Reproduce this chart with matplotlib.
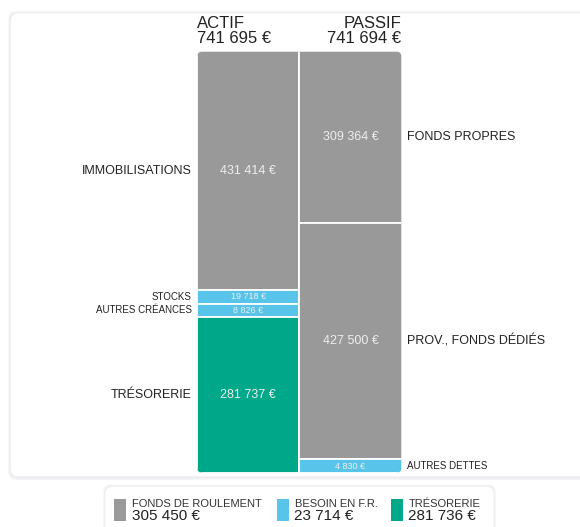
import matplotlib
matplotlib.use('Agg')
import matplotlib.pyplot as plt
from matplotlib.patches import FancyBboxPatch, Rectangle
import matplotlib.transforms as mtrans

plt.rcParams['font.family'] = ['Liberation Sans', 'DejaVu Sans']

GRAY = '#999999'
BLUE = '#58c4ea'
GREEN = '#00a88a'

# data
column_titles = ['ACTIF', 'PASSIF']
column_totals = [741695, 741694]
actif_labels = ['IMMOBILISATIONS', 'STOCKS', 'AUTRES CRÉANCES', 'TRÉSORERIE']
actif_values = [431414, 19718, 8826, 281737]
actif_colors = [GRAY, BLUE, BLUE, GREEN]
passif_labels = ['FONDS PROPRES', 'PROV., FONDS DÉDIÉS', 'AUTRES DETTES']
passif_values = [309364, 427500, 4830]
passif_colors = [GRAY, GRAY, BLUE]
legend_labels = ['FONDS DE ROULEMENT', 'BESOIN EN F.R.', 'TRÉSORERIE']
legend_values = [305450, 23714, 281736]
legend_colors = [GRAY, BLUE, GREEN]

W, H = 580, 527
MIN_FRAC = 0.033   # small segments get a minimum height


def fmt(v):
    return '{:,}'.format(v).replace(',', ' ') + ' €'


def display_heights(values, total):
    small = [v < MIN_FRAC * total for v in values]
    rest = total - MIN_FRAC * total * sum(small)
    big_sum = sum(v for v, s in zip(values, small) if not s)
    return [MIN_FRAC * total if s else v * rest / big_sum for v, s in zip(values, small)], small


def fx(x):
    return x / W


def fy(y):
    return 1 - y / H


fig = plt.figure(figsize=(W / 100, H / 100), dpi=100)
fig.patch.set_facecolor('white')

# background: panel + legend box, in pixel coordinates
bg = fig.add_axes([0, 0, 1, 1])
bg.set_xlim(0, W)
bg.set_ylim(H, 0)
bg.axis('off')

for k in range(5):
    bg.add_patch(FancyBboxPatch((10.5 - k * 0.6, 12.8 - k * 0.4), 590, 464 + k * 1.2,
                                boxstyle='round,pad=0,rounding_size=8',
                                facecolor='#c4c4d6', edgecolor='none', alpha=0.10))
bg.add_patch(FancyBboxPatch((10.5, 12.8), 590, 464, boxstyle='round,pad=0,rounding_size=8',
                            facecolor='white', edgecolor='#f0f0f3', linewidth=0.8))

for k in range(4):
    bg.add_patch(FancyBboxPatch((105 - k * 0.6, 486 - k * 0.5), 389 + k * 1.2, 60,
                                boxstyle='round,pad=0,rounding_size=7',
                                facecolor='#c4c4d6', edgecolor='none', alpha=0.10))
bg.add_patch(FancyBboxPatch((105, 486.5), 389, 60, boxstyle='round,pad=0,rounding_size=7',
                            facecolor='white', edgecolor='#f0f0f3', linewidth=0.8))

# legend
leg_x = [114, 277, 391]
for x, lab, val, col in zip(leg_x, legend_labels, legend_values, legend_colors):
    bg.add_patch(Rectangle((x, 499), 12, 22, facecolor=col, edgecolor='none'))
    bg.text(x + 18, 507, lab, fontsize=8, color='#333333', va='baseline', ha='left')
    bg.text(x + 17.5, 519.5, fmt(val), fontsize=11, color='#222222', va='baseline', ha='left')

# bars axes
bx0, bx1, by0, by1 = 197, 401.6, 51.4, 473
ax = fig.add_axes([fx(bx0), fy(by1), fx(bx1 - bx0), (by1 - by0) / H])
ax.patch.set_alpha(0)
ax.axis('off')
ymax = max(column_totals)
ax.set_xlim(-0.5, 1.5)
ax.set_ylim(ymax, 0)

# rounded outline of the whole block, in pixel units of the background axes
clip = FancyBboxPatch((bx0, by0), bx1 - bx0, by1 - by0, boxstyle='round,pad=0,rounding_size=6',
                      transform=bg.transData, facecolor='none', edgecolor='none')

left_tr = mtrans.blended_transform_factory(ax.transAxes, ax.transData)
columns = [(actif_labels, actif_values, actif_colors), (passif_labels, passif_values, passif_colors)]
for i, (labels, values, colors) in enumerate(columns):
    heights, small = display_heights(values, column_totals[i])
    bottom = 0
    for lab, v, h, s, c in zip(labels, values, heights, small, colors):
        bars = ax.bar(i, h, bottom=bottom, width=1, color=c, edgecolor='white', linewidth=1.3)
        for b in bars:
            b.set_clip_path(clip)
        mid = bottom + h / 2
        ax.text(i, mid, fmt(v), color='#eeeeee', fontsize=6.5 if s else 9,
                ha='center', va='center')
        if i == 0:
            ax.text(-0.026, mid, lab, transform=left_tr, ha='right', va='center',
                    fontsize=7 if s else 9, color='#222222')
        else:
            ax.text(1.024, mid, lab, transform=left_tr, ha='left', va='center',
                    fontsize=7 if s else 9, color='#222222')
        bottom += h

# column headers
fig.text(fx(bx0), fy(28.5), column_titles[0], fontsize=12, color='#222222', ha='left', va='baseline')
fig.text(fx(bx0), fy(43), fmt(column_totals[0]), fontsize=12, color='#222222', ha='left', va='baseline')
fig.text(fx(bx1), fy(28.5), column_titles[1], fontsize=12, color='#222222', ha='right', va='baseline')
fig.text(fx(bx1), fy(43), fmt(column_totals[1]), fontsize=12, color='#222222', ha='right', va='baseline')

fig.savefig('out.png', dpi=100)
